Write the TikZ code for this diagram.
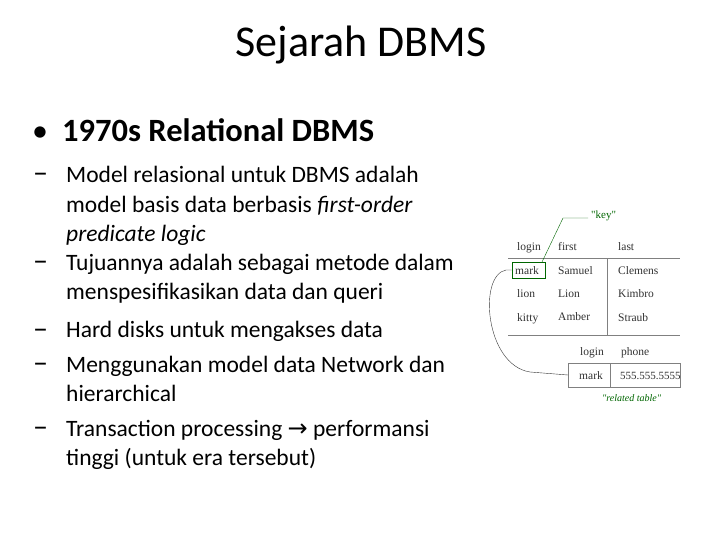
\documentclass[tikz,border=0pt]{standalone}
\usepackage{fontspec}
\setmainfont{Carlito}
\newfontfamily\tabfont{Liberation Serif}
\newfontfamily\symfont{DejaVu Sans}
\begin{document}
\begin{tikzpicture}[x=1pt,y=-1pt,
  sub/.style={anchor=base west,font=\fontsize{23.5}{28}\selectfont,inner sep=0},
  dsh/.style={anchor=base west,font=\fontsize{30}{32}\selectfont,inner sep=0},
  tb/.style={anchor=base west,font=\tabfont\fontsize{11.5}{13}\selectfont,text=black!80,inner sep=0},
  gr/.style={green!40!black}]
\useasboundingbox[fill=white] (0,0) rectangle (720,540);
\node[font=\fontsize{44}{50}\selectfont] (title) at (361,45) {Sejarah DBMS};
\node[anchor=base west,inner sep=0,font=\fontsize{32}{36}\selectfont] (b) at (32,142) {•};
\node[anchor=base west,inner sep=0,font=\bfseries\fontsize{32.5}{36}\selectfont] (h) at (62,142) {1970s Relational DBMS};
\foreach \y/\d in {183/a,270/b,338/c,372/d,436/e} \node[dsh] (d\d) at (33,\y) {–};
\node[sub] (l1) at (66,183) {Model relasional untuk DBMS adalah};
\node[sub] (l2) at (66,212) {model basis data berbasis \textit{first-order}};
\node[sub] (l3) at (66,241) {\textit{predicate logic}};
\node[sub] (l4) at (66,270) {Tujuannya adalah sebagai metode dalam};
\node[sub] (l5) at (66,299) {menspesifikasikan data dan queri};
\node[sub] (l6) at (66,337) {Hard disks untuk mengakses data};
\node[sub] (l7) at (66,372) {Menggunakan model data Network dan};
\node[sub] (l8) at (66,401) {hierarchical};
\node[sub] (l9) at (66,436) {Transaction processing {\symfont\fontsize{24}{26}\selectfont →} performansi};
\node[sub] (l10) at (66,465) {tinggi (untuk era tersebut)};
% table
\draw[gray,thick] (508,258) -- (680,258);
\draw[gray,thick] (508,335) -- (680,335);
\draw[gray] (607,258) -- (607,335);
\node[tb] (h1) at (517,251) {login};
\node[tb] (h2) at (558,251) {first};
\node[tb] (h3) at (618,251) {last};
\node[tb] (r1) at (515,274) {mark};
\node[tb] (r2) at (558,274) {Samuel};
\node[tb] (r3) at (618,274) {Clemens};
\node[tb] at (517,297) {lion};
\node[tb] at (558,297) {Lion};
\node[tb] at (618,297) {Kimbro};
\node[tb] at (517,321) {kitty};
\node[tb] at (558,320) {Amber};
\node[tb] at (618,321) {Straub};
\node[tb] at (580,355) {login};
\node[tb] at (621,355) {phone};
\draw[gray] (568,363) rectangle (680,387);
\draw[gray] (610,363) -- (610,387);
\node[tb] (m2) at (579,379) {mark};
\node[tb,font=\tabfont\fontsize{11}{13}\selectfont] at (620,379) {555.555.5555};
\node[draw=green!40!black,thick,minimum width=33,minimum height=16,inner sep=0] (key) at (528.5,270) {};
\coordinate (k1) at (563,218);
\coordinate (k2) at (588,218);
\node[anchor=west,font=\tabfont\fontsize{11}{12}\selectfont,text=green!40!black,inner sep=1] (kt) at (590,216) {"key"};
\draw[gr] (542,262) -- (k1) -- (k2);
\coordinate (m2l) at (568,375);
\draw[black!80] (key.west) -- (506,270) .. controls (478,275) and (485,365) .. (530,372) -- (m2l);
\node[anchor=west,font=\tabfont\itshape\fontsize{10}{12}\selectfont,text=green!40!black,inner sep=0] (rt) at (602,398) {"related table"};
\end{tikzpicture}
\end{document}
